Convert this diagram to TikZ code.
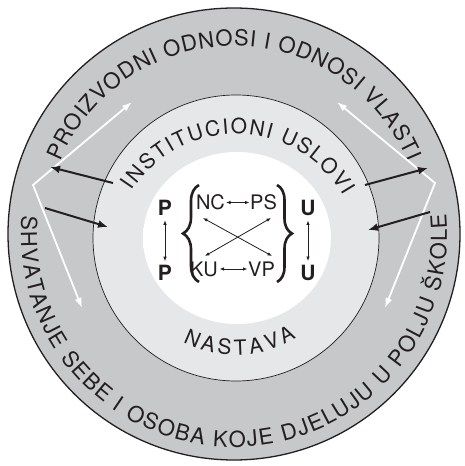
\documentclass[tikz,border=0pt]{standalone}
\usepackage{fontspec}
\setmainfont{TeX Gyre Heros}
\usetikzlibrary{decorations.text,decorations.pathreplacing,arrows.meta,calc}
\definecolor{ringouter}{RGB}{199,200,202}
\definecolor{ringmid}{RGB}{230,231,232}
\definecolor{ink}{RGB}{35,31,32}
\pgfdeclareradialshading{blob}{\pgfpoint{0bp}{0bp}}{color(0bp)=(white); color(45bp)=(white); color(50bp)=(ringmid)}
\begin{document}
\begin{tikzpicture}[x=1pt,y=1pt,
  lbl/.style={inner sep=0pt, font=\fontsize{20}{20}\selectfont, text=ink},
  boldlbl/.style={inner sep=0pt, font=\fontsize{21}{21}\selectfont\bfseries, text=ink},
  smallarrow/.style={draw=ink, line width=0.8pt, {Latex[length=4.5pt,width=3.5pt]}-{Latex[length=4.5pt,width=3.5pt]}},
  whitearrow/.style={draw=white, line width=1.8pt, {Latex[length=10pt,width=7pt]}-{Latex[length=10pt,width=7pt]}},
  blackarrow/.style={draw=ink, line width=2pt, -{Latex[length=10pt,width=8pt]}},
  bracestyle/.style={draw=ink, line width=2.6pt, decorate},
  arctext/.style={decorate, decoration={text along path, text align={fit to path}, text color=ink, text={#1}}}
]
\useasboundingbox (0,0) rectangle (465,466);
\fill[white] (0,0) rectangle (465,466);
\coordinate (Oc) at (234,232);
\coordinate (Mc) at (236,228);
\coordinate (Ic) at (236,208);
\node[circle, draw=ink, line width=1.3pt, fill=ringouter, minimum size=452pt, inner sep=0pt] (outer) at (Oc) {};
\node[circle, draw=ink, line width=0.7pt, fill=ringmid, minimum size=286pt, inner sep=0pt] (mid) at (Mc) {};
\path[shading=blob] (237,228) ellipse [x radius=94, y radius=86];

% ring texts
\path[arctext={|\fontsize{22}{22}\selectfont|PROIZVODNI ODNOSI I ODNOSI VLASTI}]
  ($(Oc)+(157.5:188)$) arc[start angle=157.5, end angle=22.5, radius=188];
\path[arctext={|\fontsize{22}{22}\selectfont|SHVATANJE SEBE I OSOBA KOJE DJELUJU U POLJU ŠKOLE}]
  ($(Oc)+(175:213)$) arc[start angle=175, end angle=365.5, radius=213];
\path[arctext={|\fontsize{21}{21}\selectfont|INSTITUCIONI USLOVI}]
  ($(Ic)+(147:124)$) arc[start angle=147, end angle=30, radius=124];
\path[arctext={|\fontsize{21}{21}\selectfont|NASTAVA}]
  ($(Mc)+(243:117)$) arc[start angle=243, end angle=301, radius=117];

% ring arrows
\coordinate (LV) at (33,281); \coordinate (LU) at (132,364); \coordinate (LD) at (82,158);
\coordinate (RV) at (435,283); \coordinate (RU) at (337,364); \coordinate (RD) at (385,158);
\draw[whitearrow] (LU) -- (LV) -- (LD);
\draw[whitearrow] (RU) -- (RV) -- (RD);
\coordinate (BLa) at (113,283); \coordinate (BLb) at (50,299);
\coordinate (BLc) at (45,258);  \coordinate (BLd) at (108,239);
\coordinate (BRa) at (365,281); \coordinate (BRb) at (428,298);
\coordinate (BRc) at (430,254); \coordinate (BRd) at (368,236);
\draw[blackarrow] (BLa) -- (BLb);
\draw[blackarrow] (BLc) -- (BLd);
\draw[blackarrow] (BRa) -- (BRb);
\draw[blackarrow] (BRc) -- (BRd);

% centre
\node[boldlbl] (P1) at (165,258.5) {P};
\node[boldlbl] (P2) at (165,193) {P};
\node[boldlbl] (U1) at (308,258.5) {U};
\node[boldlbl] (U2) at (308,193) {U};
\node[lbl, anchor=east] (NC) at (225,263.5) {NC};
\node[lbl, anchor=west] (PS) at (250,263.5) {PS};
\node[lbl, anchor=east] (KU) at (218,197) {KU};
\node[lbl, anchor=west] (VP) at (248,197) {VP};
\draw[smallarrow, shorten <=1pt, shorten >=0.5pt] (NC.east) -- (PS.west);
\draw[smallarrow, shorten <=1.5pt, shorten >=0.5pt] (KU.east) -- (VP.west);
\draw[smallarrow, shorten <=5pt, shorten >=4pt] (P1.south) -- (P2.north);
\draw[smallarrow, shorten <=5pt, shorten >=4pt] (U1.south) -- (U2.north);
\coordinate (XA) at (203,248); \coordinate (XB) at (272,210);
\coordinate (XC) at (271,248); \coordinate (XD) at (205,210);
\draw[smallarrow] (XA) -- (XB);
\draw[smallarrow] (XC) -- (XD);
\coordinate (LBa) at (199,184); \coordinate (LBb) at (199,281);
\coordinate (RBa) at (277,281); \coordinate (RBb) at (277,184);
\draw[bracestyle, decoration={brace, amplitude=16pt}] (LBa) -- (LBb);
\draw[bracestyle, decoration={brace, amplitude=15pt}] (RBa) -- (RBb);
\end{tikzpicture}
\end{document}
